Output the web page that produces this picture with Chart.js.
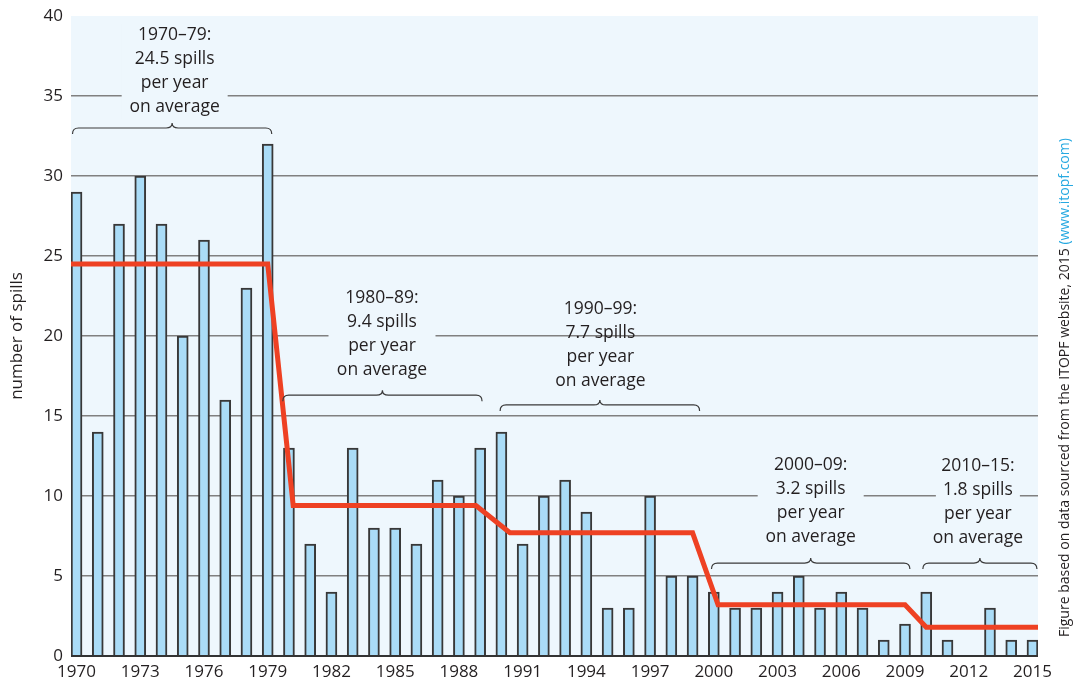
<!DOCTYPE html>
<html>
<head>
<meta charset="utf-8">
<script src="https://cdn.jsdelivr.net/npm/chart.js@4"></script>
<style>
  html, body { margin: 0; padding: 0; background: #fff; }
</style>
</head>
<body>
<canvas id="spills-chart" width="1082" height="686"></canvas>
<script>
const years = [
  1970, 1971, 1972, 1973, 1974, 1975, 1976, 1977, 1978, 1979,
  1980, 1981, 1982, 1983, 1984, 1985, 1986, 1987, 1988, 1989,
  1990, 1991, 1992, 1993, 1994, 1995, 1996, 1997, 1998, 1999,
  2000, 2001, 2002, 2003, 2004, 2005, 2006, 2007, 2008, 2009,
  2010, 2011, 2012, 2013, 2014, 2015
]

const spills = [
  29, 14, 27, 30, 27, 20, 26, 16, 23, 32,
  13, 7, 4, 13, 8, 8, 7, 11, 10, 13,
  14, 7, 10, 11, 9, 3, 3, 10, 5, 5,
  4, 3, 3, 4, 5, 3, 4, 3, 1, 2,
  4, 1, 0, 3, 1, 1
]

// corners of the decade average line
const avgYears = [1969.74, 1979, 1980.2, 1988.8, 1990.4, 1999, 2000.2, 2009, 2010, 2015.26]
const avgValues = [24.5, 24.5, 9.4, 9.4, 7.7, 7.7, 3.2, 3.2, 1.8, 1.8]

const tickYears = [1970, 1973, 1976, 1979, 1982, 1985, 1988, 1991, 1994, 1997, 2000, 2003, 2006, 2009, 2012, 2015]

const periodLabels = [
  ['1970–79:', '24.5 spills', 'per year', 'on average'],
  ['1980–89:', '9.4 spills', 'per year', 'on average'],
  ['1990–99:', '7.7 spills', 'per year', 'on average'],
  ['2000–09:', '3.2 spills', 'per year', 'on average'],
  ['2010–15:', '1.8 spills', 'per year', 'on average']
]

// where each label block and brace sits (x in years, y in spills)
const periodLayout = [
  { x: 1974.62, y: 38.8, braceFrom: 1969.81, braceTo: 1979.19, braceY: 33.0, gap: 106 },
  { x: 1984.38, y: 22.37, braceFrom: 1979.71, braceTo: 1989.09, braceY: 16.3, gap: 107 },
  { x: 1994.66, y: 21.69, braceFrom: 1989.94, braceTo: 1999.33, braceY: 15.69, gap: 0 },
  { x: 2004.56, y: 11.94, braceFrom: 1999.89, braceTo: 2009.23, braceY: 5.81, gap: 106 },
  { x: 2012.43, y: 11.88, braceFrom: 2009.84, braceTo: 2015.21, braceY: 5.81, gap: 84 }
]

const FONT = '"Open Sans", "Noto Sans", sans-serif'
const TEXT = '#231f20'
const PLOT_BG = '#eef7fd'
const LINE_H = 24

const plotBackground = {
  id: 'plotBackground',
  beforeDraw(chart) {
    const { ctx, chartArea: a } = chart
    ctx.save()
    ctx.fillStyle = PLOT_BG
    ctx.fillRect(a.left, a.top, a.right - a.left, a.bottom - a.top)
    ctx.restore()
  }
}

const drawBrace = (ctx, x1, x2, y) => {
  const xm = (x1 + x2) / 2
  const r = 6
  ctx.beginPath()
  ctx.moveTo(x1, y + r)
  ctx.quadraticCurveTo(x1, y, x1 + r, y)
  ctx.lineTo(xm - r, y)
  ctx.quadraticCurveTo(xm, y, xm, y - 5)
  ctx.quadraticCurveTo(xm, y, xm + r, y)
  ctx.lineTo(x2 - r, y)
  ctx.quadraticCurveTo(x2, y, x2, y + r)
  ctx.stroke()
}

const periodNotes = {
  id: 'periodNotes',
  beforeDatasetsDraw(chart) {
    // hide grid lines behind some of the label blocks
    const { ctx, scales: { x, y } } = chart
    ctx.save()
    ctx.fillStyle = PLOT_BG
    periodLayout.forEach((p, i) => {
      if (!p.gap) return
      const cx = x.getPixelForValue(p.x)
      const top = y.getPixelForValue(p.y) - 12
      const h = LINE_H * (periodLabels[i].length - 1) + 24
      ctx.fillRect(cx - p.gap / 2, top, p.gap, h)
    })
    ctx.restore()
  },
  afterDatasetsDraw(chart) {
    const { ctx, scales: { x, y } } = chart
    ctx.save()
    ctx.fillStyle = TEXT
    ctx.strokeStyle = '#3a3a3a'
    ctx.lineWidth = 1.2
    ctx.font = `17.5px ${FONT}`
    ctx.textAlign = 'center'
    ctx.textBaseline = 'middle'
    periodLayout.forEach((p, i) => {
      const cx = x.getPixelForValue(p.x)
      const top = y.getPixelForValue(p.y)
      periodLabels[i].forEach((line, j) => {
        ctx.fillText(line, cx, top + j * LINE_H)
      })
      drawBrace(ctx, x.getPixelForValue(p.braceFrom), x.getPixelForValue(p.braceTo), y.getPixelForValue(p.braceY))
    })
    ctx.restore()
  }
}

const sourceNote = {
  id: 'sourceNote',
  afterDraw(chart) {
    const { ctx } = chart
    const first = 'Figure based on data sourced from the ITOPF website, 2015 '
    const link = '(www.itopf.com)'
    ctx.save()
    ctx.translate(1065, 637)
    ctx.rotate(-Math.PI / 2)
    ctx.font = `14px ${FONT}`
    ctx.textAlign = 'left'
    ctx.textBaseline = 'middle'
    ctx.fillStyle = TEXT
    ctx.fillText(first, 0, 0)
    ctx.fillStyle = '#27a9e1'
    ctx.fillText(link, ctx.measureText(first).width, 0)
    ctx.restore()
  }
}

const data = {
  datasets: [
    {
      type: 'line',
      label: 'decade average',
      data: avgYears.map((yr, i) => ({ x: yr, y: avgValues[i] })),
      borderColor: '#ee4123',
      borderWidth: 5,
      borderJoinStyle: 'miter',
      pointRadius: 0,
      tension: 0,
      order: 0
    },
    {
      type: 'bar',
      label: 'number of spills',
      data: years.map((yr, i) => ({ x: yr, y: spills[i] })),
      backgroundColor: '#aadcf7',
      borderColor: '#383838',
      borderWidth: 2,
      barThickness: 11,
      order: 1
    }
  ]
}

const config = {
  type: 'bar',
  data: data,
  options: {
    responsive: false,
    animation: false,
    layout: { padding: { top: 16, right: 44, left: 0, bottom: 0 } },
    plugins: {
      legend: { display: false },
      tooltip: { enabled: false }
    },
    scales: {
      x: {
        type: 'linear',
        offset: false,
        min: 1969.74,
        max: 2015.26,
        afterBuildTicks: s => { s.ticks = tickYears.map(v => ({ value: v })) },
        afterFit: s => {
          s.height = 30
          s.paddingLeft = 0
          s.paddingRight = 0
        },
        grid: { display: false, drawTicks: false, offset: false },
        border: { display: false },
        ticks: {
          autoSkip: false,
          maxRotation: 0,
          padding: 6,
          color: TEXT,
          font: { family: FONT, size: 17 },
          callback: v => String(v)
        }
      },
      y: {
        min: 0,
        max: 40,
        afterFit: s => {
          s.width = 71
          s.paddingTop = 0
          s.paddingBottom = 0
        },
        grid: {
          drawTicks: false,
          color: c => c.tick.value === 0 ? '#333333' : (c.tick.value === 40 ? 'rgba(0,0,0,0)' : '#808080'),
          lineWidth: c => c.tick.value === 0 ? 2 : 1.5
        },
        border: { display: false },
        ticks: {
          stepSize: 5,
          padding: 8,
          color: TEXT,
          font: { family: FONT, size: 17 }
        },
        title: {
          display: true,
          text: 'number of spills',
          color: TEXT,
          font: { family: FONT, size: 17 },
          padding: { top: 7, bottom: 0 }
        }
      }
    }
  },
  plugins: [plotBackground, periodNotes, sourceNote]
}

const chart = new Chart(document.getElementById('spills-chart'), config)
</script>
</body>
</html>
